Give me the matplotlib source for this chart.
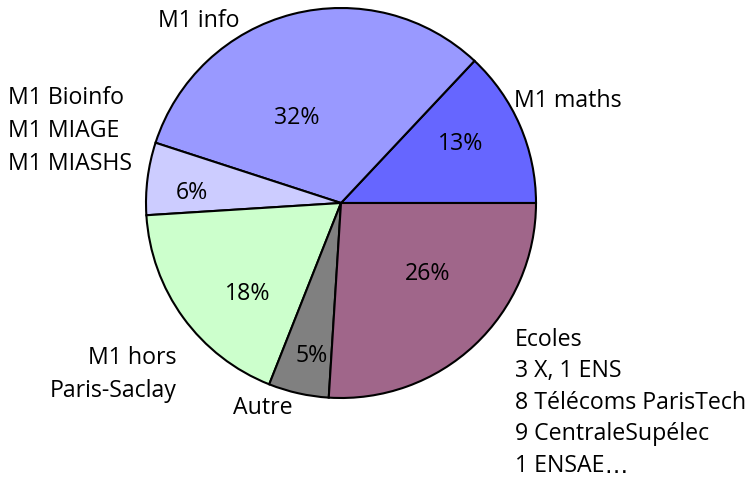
import matplotlib
matplotlib.use("Agg")
import matplotlib.pyplot as plt

plt.rcParams['font.family'] = ['Open Sans', 'DejaVu Sans']

# slices, counter-clockwise from 3 o'clock
shares = [13, 32, 6, 18, 5, 26]
colors = ['#6666ff', '#9999ff', '#ccccff', '#ccffcc', '#808080', '#a0668a']

labels = ['M1 maths', 'M1 info', 'M1 Bioinfo\nM1 MIAGE\nM1 MIASHS',
          'M1 hors\nParis-Saclay', 'Autre',
          'Ecoles\n3 X, 1 ENS\n8 Télécoms ParisTech\n9 CentraleSupélec\n1 ENSAE…']

W, H = 750, 480
fig = plt.figure(figsize=(W / 100, H / 100), dpi=100)
ax = fig.add_axes([0, 0, 1, 1])

cx, cy, r = 341, 203, 195
ax.pie(shares, colors=colors, startangle=0, counterclock=True,
       center=(cx, H - cy), radius=r,
       wedgeprops=dict(edgecolor='black', linewidth=1.5))
ax.set_xlim(0, W)
ax.set_ylim(0, H)
ax.set_aspect('equal')
ax.axis('off')

fs = 16.7

# percentage labels (x centre, baseline; pixels from top-left)
pct_pos = [(461, 150), (297, 124), (192, 199), (248, 300), (312, 362), (428, 280)]
for v, (px, py) in zip(shares, pct_pos):
    ax.text(px, H - py, '%d%%' % v, ha='center', va='baseline', fontsize=fs)

# category labels: x, first baseline, alignment, px between baselines
lab_pos = [(514, 107, 'left', 33),
           (158, 27, 'left', 33),
           (8, 104, 'left', 33),
           (177, 364, 'right', 33),
           (263, 414, 'center', 33),
           (515, 346, 'left', 31.5)]
for txt, (px, py, ha, step) in zip(labels, lab_pos):
    for i, line in enumerate(txt.split('\n')):
        y = H - (py + i * step)
        if line.endswith('…'):
            t = ax.text(px, y, line[:-1], ha=ha, va='baseline', fontsize=fs)
            ax.annotate('…', xy=(1, 0), xycoords=t, ha='left', va='bottom',
                        fontsize=fs, family='DejaVu Sans')
        else:
            ax.text(px, y, line, ha=ha, va='baseline', fontsize=fs)

fig.savefig('out.png', dpi=100)
